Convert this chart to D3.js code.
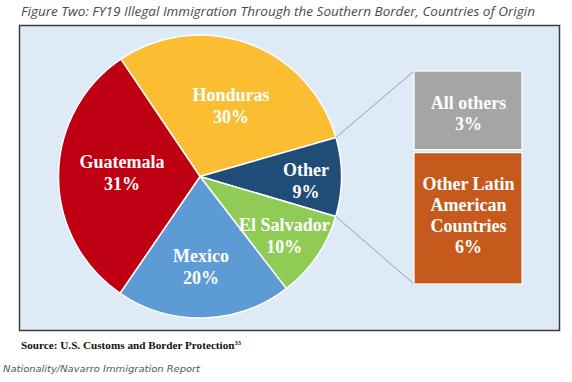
<!DOCTYPE html>
<html>
<head>
<meta charset="utf-8">
<script src="https://cdn.jsdelivr.net/npm/d3@7"></script>
<style>
  html, body { margin: 0; padding: 0; background: #ffffff; }
  svg { display: block; }
</style>
</head>
<body>
<svg id="chart" width="572" height="382"></svg>
<script>
// ---- data ----
const countries = ["Honduras", "Other", "El Salvador", "Mexico", "Guatemala"];
const shares = [30, 9, 10, 20, 31];
const breakdownLabels = [["All others"], ["Other Latin", "American", "Countries"]];
const breakdownShares = [3, 6];
const titleText = "Figure Two: FY19 Illegal Immigration Through the Southern Border, Countries of Origin";
const sourceText = "Source: U.S. Customs and Border Protection";
const sourceNote = "33";
const captionText = "Nationality/Navarro Immigration Report";

// ---- styling / layout ----
const sliceColors = ["#FBBE33", "#1F4D78", "#8FCB55", "#5C9BD4", "#BF0012"];
const boxColors = ["#A5A5A5", "#C55A1C"];
const labelRadius = [77, 106, 103, 90, 78];
const labelAngleShift = [3.7, 2, 0.6, 1, 2.6];

const svg = d3.select("#chart");
const W = 572, H = 382;

// frame
svg.append("rect")
  .attr("x", 19.5).attr("y", 25.5).attr("width", 540).attr("height", 305)
  .attr("fill", "#DEEAF6").attr("stroke", "#3c3c3c").attr("stroke-width", 1.5);

// title
svg.append("text")
  .attr("x", 21).attr("y", 15.5)
  .attr("font-family", "'Open Sans', 'Noto Sans', sans-serif")
  .attr("font-style", "italic")
  .attr("font-size", 12.5)
  .attr("fill", "#4a4a4a")
  .attr("textLength", 514).attr("lengthAdjust", "spacingAndGlyphs")
  .text(titleText);

// pie
const cx = 200, cy = 176.5, R = 141.5;
const startDeg = -34;
const pie = d3.pie().sort(null).value(d => d)
  .startAngle(startDeg * Math.PI / 180)
  .endAngle((startDeg + 360) * Math.PI / 180);
const arcs = pie(shares);
const arc = d3.arc().innerRadius(0).outerRadius(R);

const g = svg.append("g").attr("transform", `translate(${cx},${cy})`);
g.selectAll("path.slice").data(arcs).enter().append("path")
  .attr("class", "slice")
  .attr("d", arc)
  .attr("fill", (d, i) => sliceColors[i])
  .attr("stroke", "#ffffff").attr("stroke-width", 1.5)
  .attr("stroke-linejoin", "round");

const serif = "'Liberation Serif', 'Times New Roman', serif";
const lbl = g.selectAll("text.lbl").data(arcs).enter().append("text")
  .attr("class", "lbl")
  .attr("text-anchor", "middle")
  .attr("font-family", serif)
  .attr("font-weight", "bold")
  .attr("font-size", 18)
  .attr("fill", "#ffffff")
  .attr("transform", (d, i) => {
    const a = (d.startAngle + d.endAngle) / 2 + labelAngleShift[i] * Math.PI / 180;
    const r = labelRadius[i];
    return `translate(${r * Math.sin(a)},${-r * Math.cos(a)})`;
  });
lbl.append("tspan").attr("x", 0).attr("y", -4.5).text((d, i) => countries[i]);
lbl.append("tspan").attr("x", 0).attr("y", 17.5).text((d, i) => shares[i] + "%");

// breakdown of "Other"
const otherArc = arcs[countries.indexOf("Other")];
const boxX = 414, boxW = 108, boxTop = 71, boxBottom = 284;
const hScale = d3.scalePow().exponent(0.73).domain([0, 1]).range([0, 1]);
const hw = breakdownShares.map(v => hScale(v));
const hTotal = d3.sum(hw);
const yScale = d3.scaleLinear().domain([0, hTotal]).range([boxTop, boxBottom]);
let acc = 0;
const boxes = breakdownShares.map((v, i) => {
  const y0 = yScale(acc); acc += hw[i]; const y1 = yScale(acc);
  return { y0, y1, v, i };
});

// connector lines
const p1 = [cx + R * Math.sin(otherArc.startAngle), cy - R * Math.cos(otherArc.startAngle)];
const p2 = [cx + R * Math.sin(otherArc.endAngle), cy - R * Math.cos(otherArc.endAngle)];
svg.append("line").attr("x1", p1[0]).attr("y1", p1[1]).attr("x2", boxX).attr("y2", boxTop)
  .attr("stroke", "#9c9c9c").attr("stroke-width", 1);
svg.append("line").attr("x1", p2[0]).attr("y1", p2[1]).attr("x2", boxX).attr("y2", boxBottom)
  .attr("stroke", "#9c9c9c").attr("stroke-width", 1);

svg.selectAll("rect.box").data(boxes).enter().append("rect")
  .attr("class", "box")
  .attr("x", boxX).attr("width", boxW)
  .attr("y", d => d.y0 + (d.i > 0 ? 1.5 : 0))
  .attr("height", d => d.y1 - d.y0 - (d.i > 0 ? 1.5 : 0) - (d.i === 0 ? 1.5 : 0))
  .attr("fill", d => boxColors[d.i])
  .attr("stroke", "#ffffff").attr("stroke-width", 1.2);

boxes.forEach(b => {
  const lines = breakdownLabels[b.i].concat([b.v + "%"]);
  const mid = (b.y0 + b.y1) / 2;
  const lh = 21;
  const first = mid - (lines.length - 1) * lh / 2 + 6 + (b.i === 0 ? 2 : -2);
  const t = svg.append("text")
    .attr("text-anchor", "middle")
    .attr("font-family", serif).attr("font-weight", "bold")
    .attr("font-size", 18).attr("fill", "#ffffff");
  lines.forEach((s, k) => {
    t.append("tspan").attr("x", boxX + boxW / 2 + 0.5).attr("y", first + k * lh).text(s);
  });
});

// source
const src = svg.append("text")
  .attr("x", 21).attr("y", 349)
  .attr("font-family", serif).attr("font-weight", "bold")
  .attr("font-size", 11.2).attr("fill", "#111111");
src.append("tspan").text(sourceText);
src.append("tspan").attr("dy", -4).attr("font-size", 6.5).text(sourceNote);

// caption
svg.append("text")
  .attr("x", 3).attr("y", 372)
  .attr("font-family", "'DejaVu Sans', Verdana, sans-serif")
  .attr("font-style", "italic")
  .attr("font-size", 9.5)
  .attr("fill", "#555555")
  .attr("textLength", 197).attr("lengthAdjust", "spacingAndGlyphs")
  .text(captionText);
</script>
</body>
</html>
